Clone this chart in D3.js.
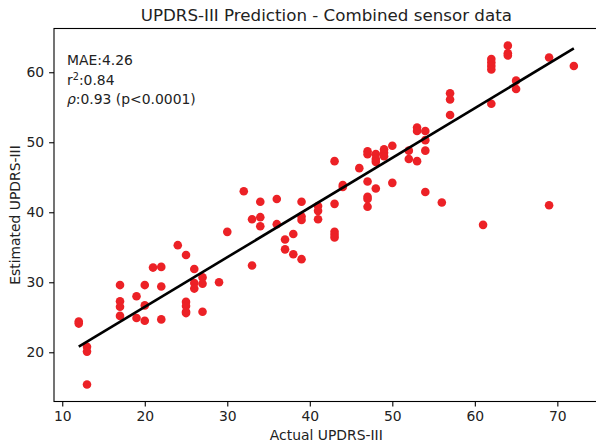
<!DOCTYPE html>
<html>
<head>
<meta charset="utf-8">
<script src="https://cdn.jsdelivr.net/npm/d3@7"></script>
<style>
  body { margin: 0; background: #fff; }
  svg { display: block; font-family: "DejaVu Sans", sans-serif; }
</style>
</head>
<body>
<div id="chart"></div>
<script>
// actual score (x) and estimated score (y), one entry per subject
var actual = [
  12, 12,
  13, 13, 13,
  17, 17, 17, 17,
  19, 19,
  20, 20, 20,
  21,
  22, 22, 22,
  24,
  25, 25, 25, 25, 25,
  26, 26, 26,
  27, 27, 27,
  29, 30, 32,
  33, 33,
  34, 34, 34,
  36, 36,
  37, 37,
  38, 38,
  39, 39, 39, 39,
  41, 41, 41,
  43, 43, 43, 43, 43,
  44, 44,
  46,
  47, 47, 47, 47, 47, 47,
  48, 48, 48, 48,
  49, 49, 49,
  50, 50,
  52, 52,
  53, 53, 53,
  54, 54, 54, 54,
  56,
  57, 57, 57,
  61,
  62, 62, 62, 62, 62,
  64, 64, 64,
  65, 65,
  69, 69,
  72
]
var estimated = [
  24.4, 24.1,
  20.8, 20.1, 15.4,
  29.6, 27.3, 26.5, 25.2,
  28.0, 24.9,
  29.6, 26.7, 24.5,
  32.1,
  32.2, 29.4, 24.7,
  35.3,
  33.9, 27.2, 26.6, 25.8, 25.6,
  31.9, 29.9, 29.1,
  30.7, 29.8, 25.8,
  30.0, 37.2, 43.0,
  39.0, 32.4,
  41.5, 39.3, 38.0,
  41.9, 38.3,
  36.1, 34.7,
  36.9, 34.0,
  41.5, 39.4, 38.9, 33.3,
  40.9, 40.2, 39.0,
  47.3, 41.2, 37.2, 36.8, 36.4,
  43.9, 43.6,
  46.3,
  48.7, 48.3, 44.4, 42.2, 41.9, 40.8,
  48.3, 47.6, 47.2, 43.4,
  49.0, 48.5, 48.0,
  49.5, 44.2,
  48.8, 47.6,
  52.1, 51.6, 47.3,
  51.6, 50.3, 48.8, 42.9,
  41.4,
  57.0, 56.1, 53.9,
  38.2,
  61.9, 61.4, 60.9, 60.4, 55.5,
  63.8, 62.7, 62.4,
  58.8, 57.6,
  62.1, 41.0,
  60.9
]

var fitX = [12, 72]
var fitY = [20.8, 63.4]

var xTicks = [10, 20, 30, 40, 50, 60, 70]
var yTicks = [20, 30, 40, 50, 60]
var statLines = ['MAE:4.26', 'r2:0.84', 'rho:0.93 (p<0.0001)']

var width = 596, height = 446
var plot = { left: 54, right: 598.6, top: 28.5, bottom: 401.5 }

var svg = d3.select('#chart')
  .append('svg')
  .attr('width', width)
  .attr('height', height)

var xScale = d3.scaleLinear()
  .domain([9, 75])
  .range([plot.left, plot.right])

var yScale = d3.scaleLinear()
  .domain([12.97, 66.25])
  .range([plot.bottom, plot.top])

var dotColor = '#ec2126'

// points
svg.append('g')
  .attr('class', 'dots')
  .selectAll('circle')
  .data(actual.map((a, i) => ({ a: a, e: estimated[i] })))
  .join('circle')
  .attr('cx', d => xScale(d.a))
  .attr('cy', d => yScale(d.e))
  .attr('r', 4.3)
  .style('fill', dotColor)

// regression line
var lineDraw = d3.line()
  .x(d => xScale(d[0]))
  .y(d => yScale(d[1]))

svg.append('path')
  .datum(fitX.map((x, i) => [x, fitY[i]]))
  .attr('d', lineDraw)
  .style('fill', 'none')
  .style('stroke', 'black')
  .style('stroke-width', 2.6)

// X axis
var xAxis = d3.axisBottom(xScale)
  .tickValues(xTicks)
  .tickSizeInner(4.9)
  .tickSizeOuter(0)
  .tickPadding(4.9)

var gx = svg.append('g')
  .attr('transform', `translate(0,${plot.bottom})`)
  .call(xAxis)
gx.select('.domain').remove()
gx.selectAll('.tick line').style('stroke', 'black').style('stroke-width', 1.1)
gx.selectAll('.tick text')
  .style('font-family', 'DejaVu Sans')
  .style('font-size', '13.9px')
  .style('fill', '#222')

// Y axis
var yAxis = d3.axisLeft(yScale)
  .tickValues(yTicks)
  .tickSizeInner(4.9)
  .tickSizeOuter(0)
  .tickPadding(4.9)

var gy = svg.append('g')
  .attr('transform', `translate(${plot.left},0)`)
  .call(yAxis)
gy.select('.domain').remove()
gy.selectAll('.tick line').style('stroke', 'black').style('stroke-width', 1.1)
gy.selectAll('.tick text')
  .style('font-family', 'DejaVu Sans')
  .style('font-size', '13.9px')
  .style('fill', '#222')

// frame
svg.append('rect')
  .attr('x', plot.left)
  .attr('y', plot.top)
  .attr('width', plot.right - plot.left)
  .attr('height', plot.bottom - plot.top)
  .style('fill', 'none')
  .style('stroke', 'black')
  .style('stroke-width', 1.1)

// title and labels
svg.append('text')
  .attr('x', (plot.left + plot.right) / 2)
  .attr('y', 20.5)
  .attr('text-anchor', 'middle')
  .style('font-size', '16.7px')
  .style('fill', '#222')
  .text('UPDRS-III Prediction - Combined sensor data')

svg.append('text')
  .attr('x', (plot.left + plot.right) / 2)
  .attr('y', 440)
  .attr('text-anchor', 'middle')
  .style('font-size', '13.9px')
  .style('fill', '#222')
  .text('Actual UPDRS-III')

svg.append('text')
  .attr('transform', `translate(19.5,${(plot.top + plot.bottom) / 2}) rotate(-90)`)
  .attr('text-anchor', 'middle')
  .style('font-size', '13.9px')
  .style('fill', '#222')
  .text('Estimated UPDRS-III')

// stats box
var stats = svg.append('g')
  .attr('transform', 'translate(67,0)')
  .style('font-size', '13.9px')
  .style('fill', '#222')

stats.append('text')
  .attr('y', 65)
  .text(statLines[0])

var r2 = stats.append('text').attr('y', 84.5)
r2.append('tspan').text('r')
r2.append('tspan').attr('dy', -5).style('font-size', '9.7px').text('2')
r2.append('tspan').attr('dy', 5).text(statLines[1].slice(2))

var rho = stats.append('text').attr('y', 104)
rho.append('tspan').style('font-style', 'italic').text('ρ')
rho.append('tspan').text(statLines[2].slice(3))
</script>
</body>
</html>
